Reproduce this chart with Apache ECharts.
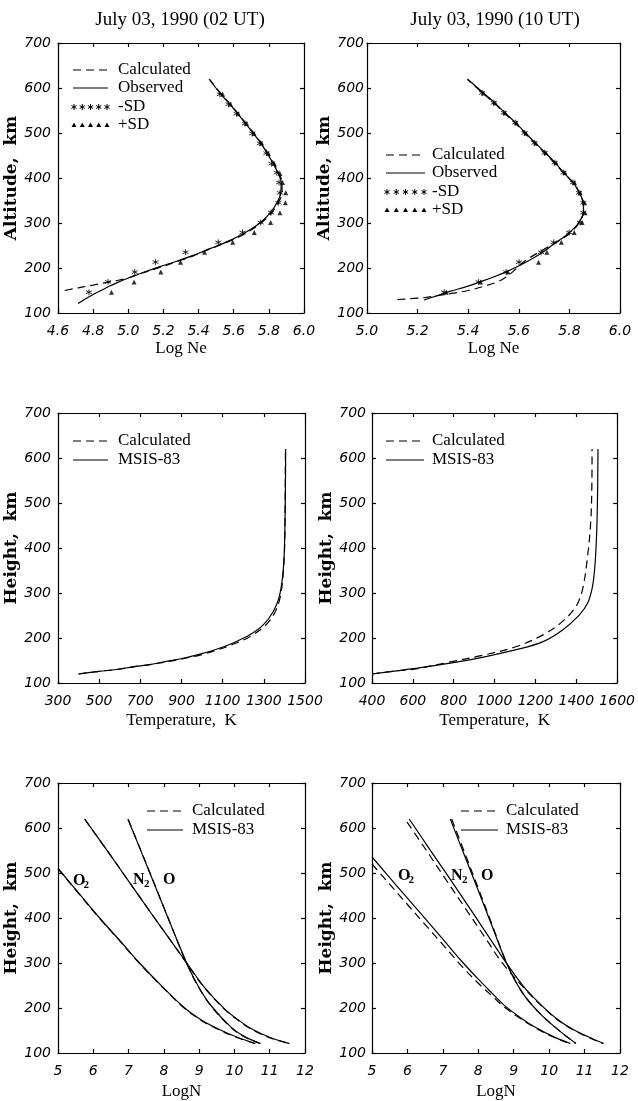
<!DOCTYPE html>
<html><head><meta charset="utf-8">
<script src="https://cdn.jsdelivr.net/npm/echarts@6/dist/echarts.min.js"></script>
<style>html,body{margin:0;padding:0;background:#fff}#c{width:638px;height:1101px}</style>
</head><body><div id="c"></div>
<script>
// ---------------- DATA ----------------
const panelTitles = ['July 03, 1990 (02 UT)', 'July 03, 1990 (10 UT)'];
// axis ranges [min, max, interval]
const neAxis02 = [4.6, 6.0, 0.2];
const neAxis10 = [5.0, 6.0, 0.2];
const tAxis02 = [300, 1500, 200];
const tAxis10 = [400, 1600, 200];
const nAxis = [5, 12, 1];
const hAxis = [100, 700, 100];

// Panel 1: Log Ne vs altitude, 02 UT  ([logNe, km])
const ne02Obs = [[4.714,121],[4.755,131],[4.80,141],[4.85,151],[4.894,160],[4.94,168],[4.99,176],[5.084,190],[5.18,203],[5.275,215],[5.37,228],[5.464,243],[5.56,258],[5.654,276],[5.749,300],[5.806,322],[5.846,345],[5.868,367],[5.87,390],[5.853,410],[5.825,432],[5.79,455],[5.755,477],[5.712,499],[5.668,521],[5.622,543],[5.578,564],[5.525,587],[5.46,620]];
const ne02Calc = [[4.638,150],[4.69,154],[4.742,158],[4.80,162],[4.856,166.5],[4.933,172],[4.99,177],[5.08,189],[5.18,201],[5.275,214],[5.37,227],[5.464,242],[5.56,257],[5.654,274],[5.745,297],[5.81,320],[5.853,345],[5.875,367],[5.875,390],[5.858,410],[5.83,432],[5.795,455],[5.758,477],[5.715,499],[5.67,521],[5.625,543],[5.58,564],[5.528,587],[5.465,618]];
const ne02Minus = [[4.776,146],[4.885,169],[5.037,191],[5.155,213],[5.326,235],[5.512,257],[5.65,279],[5.753,301],[5.812,323],[5.854,345],[5.863,367],[5.858,390],[5.845,412],[5.815,432],[5.786,455],[5.749,477],[5.706,499],[5.664,521],[5.616,543],[5.571,564],[5.521,586]];
const ne02Plus = [[4.904,146],[5.033,169],[5.185,191],[5.297,213],[5.434,235],[5.594,257],[5.717,279],[5.81,301],[5.863,323],[5.894,345],[5.896,367],[5.878,390],[5.863,410],[5.83,432],[5.797,455],[5.759,477],[5.715,499],[5.673,521],[5.626,543],[5.582,564],[5.537,586]];

// Panel 2: Log Ne vs altitude, 10 UT
const ne10Obs = [[5.225,129],[5.275,138],[5.328,148],[5.39,158],[5.446,169],[5.50,180],[5.552,192],[5.605,206],[5.658,222],[5.70,237],[5.737,253],[5.79,274],[5.836,300],[5.856,329],[5.852,350],[5.84,367],[5.816,389],[5.779,411],[5.745,433],[5.705,456],[5.665,478],[5.626,500],[5.589,522],[5.545,545],[5.505,567],[5.46,589],[5.397,620]];
const ne10Calc = [[5.12,130],[5.229,134.5],[5.328,143],[5.40,150],[5.46,159],[5.515,169],[5.552,181],[5.585,196],[5.625,216],[5.695,240],[5.745,256],[5.795,274],[5.838,300],[5.857,329],[5.853,350],[5.84,367],[5.815,389],[5.777,411],[5.742,433],[5.702,456],[5.662,478],[5.623,500],[5.586,522],[5.542,545],[5.502,567],[5.457,589],[5.398,618]];
const ne10Minus = [[5.305,146],[5.441,169],[5.55,191],[5.601,213],[5.688,235],[5.738,257],[5.799,279],[5.842,301],[5.855,323],[5.855,345],[5.838,367],[5.814,390],[5.777,412],[5.742,434],[5.702,456],[5.662,478],[5.623,500],[5.586,523],[5.541,545],[5.501,567],[5.455,589]];
const ne10Plus = [[5.313,146],[5.449,169],[5.557,191],[5.678,213],[5.711,235],[5.768,257],[5.819,279],[5.85,301],[5.862,323],[5.86,345],[5.843,367],[5.82,390],[5.782,412],[5.747,434],[5.707,456],[5.667,478],[5.628,500],[5.591,523],[5.546,545],[5.506,567],[5.46,589]];

// Panel 3/4: temperature [K, km]
const temp02Msis = [[400,120],[500,126],[584,130],[665,136],[746,141],[827,148],[908,155],[990,164],[1070,175],[1151,189],[1232,207],[1297,229],[1346,259],[1375,292],[1391,336],[1399,388],[1403,462],[1405,540],[1406,620]];
const temp02Calc = [[400,120],[500,126],[584,130],[665,136],[746,141],[827,147],[908,154],[990,162],[1070,173],[1151,186],[1232,203],[1310,229],[1356,259],[1380,292],[1393,336],[1400,388],[1403,462],[1404,540],[1405,620]];
const temp10Msis = [[400,120],[500,126],[623,133],[784,144],[946,157.6],[1107,174],[1237,192],[1333,218],[1414,251],[1455,277],[1479,314],[1492,366],[1500,440],[1504,520],[1506,620]];
const temp10Calc = [[400,120],[500,126],[623,132],[784,147],[946,162],[1107,181],[1237,207],[1333,237],[1398,270],[1430,307],[1455,381],[1471,462],[1476,540],[1477,620]];

// Panel 5: log number density, 02 UT [logN, km]
const o2_02Msis = [[5.0,510],[5.11,500],[5.6,454],[6.18,400],[6.75,350],[7.31,300],[7.95,248],[8.59,200],[9.05,174],[9.53,154],[10.05,136],[10.59,121]];
const o2_02Calc = [[5.0,509],[5.11,499],[5.6,453],[6.18,399],[6.75,349],[7.31,299],[7.95,247],[8.59,199],[9.05,173],[9.53,153],[10.05,135],[10.57,121]];
const n2_02Msis = [[5.755,620],[6.4,549],[7.0,482],[7.6,415],[8.2,349],[8.64,301],[9.15,246],[9.72,198],[10.1,174],[10.48,154],[11.0,135],[11.56,121]];
const n2_02Calc = [[5.76,619],[6.41,548],[7.01,481],[7.61,414],[8.21,348],[8.64,300],[9.15,245],[9.72,197],[10.1,173],[10.48,153],[11.0,134],[11.55,121]];
const o_02Msis = [[6.98,620],[7.5,520],[8.0,423],[8.64,301],[8.97,249],[9.34,205],[9.91,157],[10.3,136],[10.74,121]];
const o_02Calc = [[6.99,619],[7.51,519],[8.01,422],[8.64,300],[8.97,248],[9.34,204],[9.91,156],[10.3,135],[10.73,121]];

// Panel 6: log number density, 10 UT
const o2_10Msis = [[5.0,536],[5.42,497],[6.0,444],[6.55,394],[7.0,353],[7.52,305],[8.0,264],[8.4,232],[8.72,207],[9.2,178],[9.61,157],[10.1,137],[10.6,121]];
const o2_10Calc = [[5.0,520],[5.42,482],[6.0,430],[6.55,381],[7.0,341],[7.52,294],[8.0,255],[8.4,226],[8.72,203],[9.2,176],[9.61,156],[10.1,136],[10.58,121]];
const n2_10Msis = [[6.05,620],[6.6,556],[7.2,487],[7.8,417],[8.4,346],[8.81,298],[9.33,243],[9.89,198],[10.25,174],[10.64,154],[11.1,136],[11.54,121]];
const n2_10Calc = [[5.99,613],[6.45,560],[7.03,492],[7.63,422],[8.23,352],[8.66,302],[9.33,241],[9.89,197],[10.25,173],[10.64,153],[11.1,135],[11.52,121]];
const o_10Msis = [[7.21,620],[7.6,541],[8.0,461],[8.4,380],[8.81,298],[9.23,236],[9.70,191],[10.25,152],[10.76,121]];
const o_10Calc = [[7.25,620],[7.63,542],[8.02,462],[8.41,381],[8.81,298],[9.23,236],[9.70,191],[10.25,152],[10.75,121]];

// ---------------- CHART ----------------
const chart = echarts.init(document.getElementById('c'), null, {renderer: 'canvas'});
const BLACK = '#000';
const DASH = [8, 5];
const tickFont = {fontFamily: 'DejaVu Sans', fontStyle: 'italic', fontSize: 14, color: BLACK};
const serif = '"Liberation Serif", serif';

const grids = [
  {left: 58, top: 43, width: 246, height: 270},
  {left: 367, top: 43, width: 253, height: 270},
  {left: 58, top: 413, width: 247, height: 270},
  {left: 372, top: 413, width: 248, height: 270},
  {left: 58, top: 783, width: 247, height: 271},
  {left: 372, top: 783, width: 248, height: 271}
];
const panels = [
  {x: neAxis02, xName: 'Log Ne', yName: 'Altitude,  km', fmt: 1, xGap: 27, yGap: 33, yMargin: 7},
  {x: neAxis10, xName: 'Log Ne', yName: 'Altitude,  km', fmt: 1, xGap: 27, yGap: 28, yMargin: 3},
  {x: tAxis02, xName: 'Temperature,  K', yName: 'Height,  km', fmt: 0, xGap: 29, yGap: 33, yMargin: 7},
  {x: tAxis10, xName: 'Temperature,  K', yName: 'Height,  km', fmt: 0, xGap: 29, yGap: 32, yMargin: 6},
  {x: nAxis, xName: 'LogN', yName: 'Height,  km', fmt: 0, xGap: 30, yGap: 33, yMargin: 7},
  {x: nAxis, xName: 'LogN', yName: 'Height,  km', fmt: 0, xGap: 30, yGap: 32, yMargin: 6}
];

const xAxes = [], yAxes = [];
const axisLine = {show: true, onZero: false, lineStyle: {color: BLACK, width: 1.2}};
const axisTick = {show: true, inside: true, length: 4, lineStyle: {color: BLACK, width: 1.2}};
panels.forEach((p, i) => {
  const [mn, mx, iv] = p.x;
  xAxes.push({
    gridIndex: i, type: 'value', position: 'bottom', min: mn, max: mx, interval: iv,
    axisLine, axisTick, splitLine: {show: false},
    axisLabel: Object.assign({margin: 11, formatter: v => p.fmt ? v.toFixed(1) : String(v)}, tickFont),
    name: p.xName, nameLocation: 'middle', nameGap: p.xGap,
    nameTextStyle: {fontFamily: serif, fontSize: 17, color: BLACK}
  });
  xAxes.push({
    gridIndex: i, type: 'value', position: 'top', min: mn, max: mx, interval: iv,
    axisLine, axisTick, splitLine: {show: false}, axisLabel: {show: false}
  });
  yAxes.push({
    gridIndex: i, type: 'value', position: 'left', min: hAxis[0], max: hAxis[1], interval: hAxis[2],
    axisLine, axisTick, splitLine: {show: false},
    axisLabel: Object.assign({margin: p.yMargin}, tickFont),
    name: p.yName, nameLocation: 'middle', nameRotate: 90, nameGap: p.yGap,
    nameTextStyle: {fontFamily: '"DejaVu Serif", serif', fontWeight: 'bold', fontSize: 17, color: BLACK}
  });
  yAxes.push({
    gridIndex: i, type: 'value', position: 'right', min: hAxis[0], max: hAxis[1], interval: hAxis[2],
    axisLine, axisTick, splitLine: {show: false}, axisLabel: {show: false}
  });
});

const STAR = 'path://M5,0L5,10M0.67,2.5L9.33,7.5M0.67,7.5L9.33,2.5';
function line(name, data, i, dashed) {
  return {type: 'line', name, data, xAxisIndex: 2 * i, yAxisIndex: 2 * i, symbol: 'none', showSymbol: false,
    smooth: 0.35, silent: true, z: dashed ? 3 : 2,
    lineStyle: {color: BLACK, width: 1.2, type: dashed ? DASH : 'solid'}};
}
function stars(name, data, i) {
  return {type: 'scatter', name, data, xAxisIndex: 2 * i, yAxisIndex: 2 * i, symbol: STAR, symbolSize: 6,
    silent: true, z: 4, itemStyle: {color: 'rgba(0,0,0,0)', borderColor: BLACK, borderWidth: 1}};
}
function tris(name, data, i) {
  return {type: 'scatter', name, data, xAxisIndex: 2 * i, yAxisIndex: 2 * i, symbol: 'triangle', symbolSize: 5,
    silent: true, z: 4, itemStyle: {color: BLACK}};
}

const series = [
  line('Calculated', ne02Calc, 0, true), line('Observed', ne02Obs, 0, false),
  stars('-SD', ne02Minus, 0), tris('+SD', ne02Plus, 0),
  line('Calculated', ne10Calc, 1, true), line('Observed', ne10Obs, 1, false),
  stars('-SD', ne10Minus, 1), tris('+SD', ne10Plus, 1),
  line('Calculated', temp02Calc, 2, true), line('MSIS-83', temp02Msis, 2, false),
  line('Calculated', temp10Calc, 3, true), line('MSIS-83', temp10Msis, 3, false),
  line('Calculated O2', o2_02Calc, 4, true), line('MSIS-83 O2', o2_02Msis, 4, false),
  line('Calculated N2', n2_02Calc, 4, true), line('MSIS-83 N2', n2_02Msis, 4, false),
  line('Calculated O', o_02Calc, 4, true), line('MSIS-83 O', o_02Msis, 4, false),
  line('Calculated O2', o2_10Calc, 5, true), line('MSIS-83 O2', o2_10Msis, 5, false),
  line('Calculated N2', n2_10Calc, 5, true), line('MSIS-83 N2', n2_10Msis, 5, false),
  line('Calculated O', o_10Calc, 5, true), line('MSIS-83 O', o_10Msis, 5, false)
];

// ---------- legends / annotations (graphic) ----------
function txt(x, y, text, font, align) {
  return {type: 'text', x, y, silent: true,
    style: {text, font, fill: BLACK, align: align || 'left', verticalAlign: 'middle'}};
}
function seg(x1, y1, x2, y2, w, dash) {
  return {type: 'line', silent: true, shape: {x1, y1, x2, y2},
    style: {stroke: BLACK, lineWidth: w, lineDash: dash || null}};
}
function lg(x1, x2, y, dashed) { return seg(x1, y, x2, y, 1.2, dashed ? DASH : null); }
function starRow(x1, x2, y) {
  const out = [];
  for (let k = 0; k < 5; k++) {
    const cx = x1 + (x2 - x1) * k / 4;
    out.push(seg(cx, y - 3, cx, y + 3, 1));
    out.push(seg(cx - 2.6, y - 1.5, cx + 2.6, y + 1.5, 1));
    out.push(seg(cx - 2.6, y + 1.5, cx + 2.6, y - 1.5, 1));
  }
  return out;
}
function triRow(x1, x2, y) {
  const out = [];
  for (let k = 0; k < 5; k++) {
    const cx = x1 + (x2 - x1) * k / 4;
    out.push({type: 'polygon', silent: true, shape: {points: [[cx, y - 2.6], [cx + 2.5, y + 2], [cx - 2.5, y + 2]]},
      style: {fill: BLACK}});
  }
  return out;
}
const LF = '17px "Liberation Serif", serif';
const TF = '19px "Liberation Serif", serif';
const SPF = 'bold 16px "Liberation Serif", serif';
const SUBF = 'bold 11px "Liberation Serif", serif';
function legendBlock(x1, x2, tx, ys, names, kinds) {
  const out = [];
  names.forEach((n, k) => {
    const y = ys[k];
    if (kinds[k] === 'dash') out.push(lg(x1, x2, y, true));
    else if (kinds[k] === 'solid') out.push(lg(x1, x2, y, false));
    else if (kinds[k] === 'star') out.push(...starRow(x1 + 1, x2 - 1, y));
    else out.push(...triRow(x1 + 1, x2 - 1, y));
    out.push(txt(tx, y, n, LF));
  });
  return out;
}
function species(x, y, base, sub) {
  const out = [txt(x, y, base, SPF)];
  if (sub) out.push(txt(x + (base === 'N' ? 11 : 10.5), y + 4, sub, SUBF));
  return out;
}

const graphic = [
  txt(180, 20, panelTitles[0], TF, 'center'),
  txt(495, 20, panelTitles[1], TF, 'center'),
  ...legendBlock(73, 108, 118, [70, 88, 107, 125], ['Calculated', 'Observed', '-SD', '+SD'], ['dash', 'solid', 'star', 'tri']),
  ...legendBlock(386, 425, 432, [155, 173, 192, 210], ['Calculated', 'Observed', '-SD', '+SD'], ['dash', 'solid', 'star', 'tri']),
  ...legendBlock(73, 108, 118, [441, 460], ['Calculated', 'MSIS-83'], ['dash', 'solid']),
  ...legendBlock(386, 424, 432, [441, 460], ['Calculated', 'MSIS-83'], ['dash', 'solid']),
  ...legendBlock(147, 183, 192, [811, 830], ['Calculated', 'MSIS-83'], ['dash', 'solid']),
  ...legendBlock(461, 498, 506, [811, 830], ['Calculated', 'MSIS-83'], ['dash', 'solid']),
  ...species(73, 881, 'O', '2'), ...species(133, 880, 'N', '2'), ...species(163, 880, 'O'),
  ...species(398, 876, 'O', '2'), ...species(451, 876, 'N', '2'), ...species(481, 876, 'O')
];

chart.setOption({
  animation: false,
  backgroundColor: '#fff',
  grid: grids,
  xAxis: xAxes,
  yAxis: yAxes,
  series,
  graphic: {elements: graphic}
});
</script>
</body></html>
